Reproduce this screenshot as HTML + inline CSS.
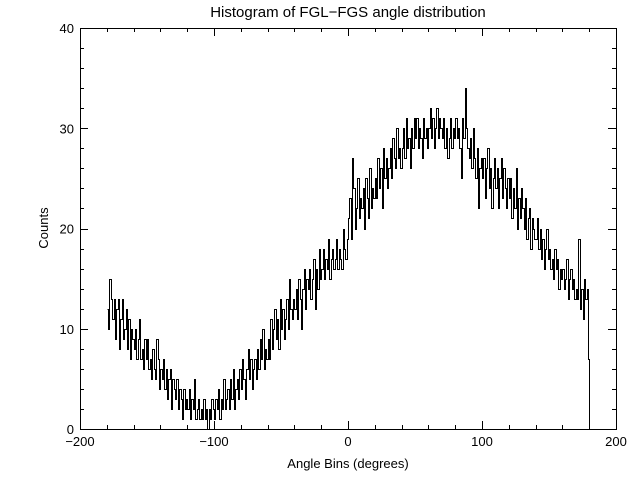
<!DOCTYPE html>
<html><head><meta charset="utf-8"><style>
html,body{margin:0;padding:0;background:#fff;}
svg text{font-family:"Liberation Sans",sans-serif;fill:#000;}
</style></head><body>
<svg id="chart" width="640" height="480" xmlns="http://www.w3.org/2000/svg">
<rect x="0" y="0" width="640" height="480" fill="#fff"/>
<text x="348" y="17" font-size="15" text-anchor="middle">Histogram of FGL−FGS angle distribution</text>
<text x="348" y="468" font-size="13" text-anchor="middle">Angle Bins (degrees)</text>
<text x="48" y="228" font-size="13" text-anchor="middle" transform="rotate(-90 48 228)">Counts</text>
<rect x="80.5" y="28.5" width="536" height="401" fill="none" stroke="#000" stroke-width="1" shape-rendering="crispEdges"/>
<g id="axes" shape-rendering="crispEdges"></g>
<path id="series" fill="none" stroke="#000" stroke-width="1" shape-rendering="crispEdges"/>
</svg>
<script>
const xTicks=[-200,-100,0,100,200];
const yTicks=[0,10,20,30,40];
const binStart=-180;
const counts=[
12,10,15,13,11,13,9,12,13,8,
11,13,9,10,12,8,11,7,10,9,
8,10,7,9,11,7,8,6,9,7,
9,6,7,5,8,6,5,9,7,4,
6,5,7,4,6,3,5,6,2,5,
4,3,5,2,4,3,1,4,2,3,
2,4,1,3,2,5,1,2,3,1,
2,1,3,1,2,0,2,1,3,2,
1,3,2,4,1,3,2,5,2,3,
4,2,5,3,6,2,4,5,3,6,
4,7,5,3,6,8,5,7,4,6,
7,5,8,6,9,7,10,6,8,7,
9,7,11,8,10,12,9,11,8,13,
10,12,9,11,13,10,15,12,11,13,
12,14,11,15,13,10,14,16,12,15,
14,16,13,15,17,12,16,14,18,15,
16,18,15,17,16,19,15,17,18,16,
17,19,16,18,17,16,20,18,17,19,
21,23,19,27,24,20,22,25,21,23,
22,24,20,25,23,21,26,22,24,23,
25,23,27,24,26,22,28,25,27,24,
26,28,25,29,27,26,30,27,28,26,
28,30,27,31,28,29,26,30,28,31,
29,31,28,30,29,27,31,29,30,28,
30,32,29,31,28,30,32,29,31,30,
29,31,28,30,27,29,31,28,30,29,
31,29,30,28,25,31,29,34,30,28,
27,29,26,30,27,25,28,22,26,27,
25,27,23,26,28,24,26,22,25,27,
24,26,22,25,27,23,26,24,22,25,
23,25,21,24,22,26,20,23,21,24,
22,20,23,19,21,22,18,21,20,19,
19,21,18,20,17,19,16,18,20,17,
18,16,17,15,18,16,17,14,16,15,
16,14,15,17,13,15,16,14,15,13,
14,13,19,12,14,11,15,13,14,7
];
const X0=80,X1=616,Y0=429,Y1=28;
const xs=v=>X0+(v+200)/400*(X1-X0);
const ys=v=>Y0-v/40*(Y0-Y1);
const NS="http://www.w3.org/2000/svg";
const g=document.getElementById('axes');
function line(x1,y1,x2,y2,name){
  const l=document.createElementNS(NS,'line');
  l.setAttribute('x1',x1);l.setAttribute('y1',y1);l.setAttribute('x2',x2);l.setAttribute('y2',y2);
  l.setAttribute('stroke','#000');l.setAttribute('stroke-width','1');
  
  
  g.appendChild(l);
}
function text(x,y,s,anchor,name){
  const t=document.createElementNS(NS,'text');
  t.setAttribute('x',x);t.setAttribute('y',y);t.setAttribute('font-size','13');t.setAttribute('text-anchor',anchor);
  t.textContent=s;
  
  
  g.appendChild(t);
}
for(let v=xTicks[0];v<=xTicks[xTicks.length-1];v+=20){
  const major=xTicks.includes(v);const L=major?8:4;const x=Math.round(xs(v))+0.5;
  line(x,Y0,x,Y0-L,'x-tick');line(x,Y1,x,Y1+L,'x-tick-top');
}
xTicks.forEach(v=>text(xs(v),446,String(v).replace('-','−'),'middle','x-tick-label'));
for(let v=yTicks[0];v<=yTicks[yTicks.length-1];v+=2){
  const major=yTicks.includes(v);const L=major?8:4;const y=Math.round(ys(v))+0.5;
  line(X0,y,X0+L,y,'y-tick');line(X1,y,X1-L,y,'y-tick-right');
}
yTicks.forEach(v=>text(74,ys(v)+5,String(v),'end','y-tick-label'));
const px=v=>Math.round(v)+0.5;
let d='';
counts.forEach((c,i)=>{
  const xa=px(xs(binStart+i)),xb=px(xs(binStart+i+1)),y=px(ys(c));
  d+=(i===0?'M':'L')+xa+','+y+'L'+xb+','+y;
});
d+='L'+px(xs(binStart+counts.length))+','+px(ys(0));
document.getElementById('series').setAttribute('d',d);
</script>
</body></html>
